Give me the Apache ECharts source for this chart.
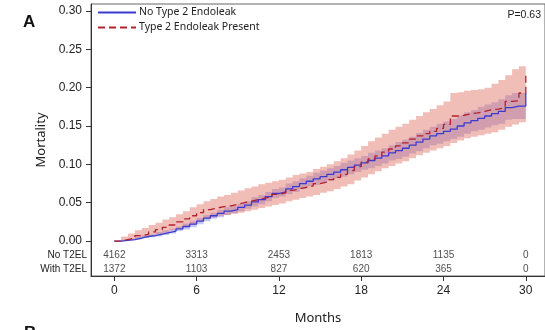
<!DOCTYPE html>
<html>
<head>
<meta charset="utf-8">
<script src="https://cdn.jsdelivr.net/npm/echarts@6/dist/echarts.min.js"></script>
<style>
  html, body { margin: 0; padding: 0; background: #fff; }
  #chart { width: 545px; height: 330px; }
</style>
</head>
<body>
<div id="chart"></div>
<script>
// Cumulative mortality (Kaplan-Meier style), sampled every half month of follow-up
const months = [0,0.5,1,1.5,2,2.5,3,3.5,4,4.5,5,5.5,6,6.5,7,7.5,8,8.5,9,9.5,10,10.5,11,11.5,12,12.5,13,13.5,14,14.5,15,
                15.5,16,16.5,17,17.5,18,18.5,19,19.5,20,20.5,21,21.5,22,22.5,23,23.5,24,24.5,25,25.5,26,26.5,27,27.5,28,28.5,29,29.5,30];

// No Type 2 Endoleak: estimate and 95% band
const noT2el   = [0,.001,.002,.004,.006,.007,.009,.011,.013,.016,.019,.022,.026,.030,.033,.036,.039,.041,.044,.047,.051,.054,.058,.062,.064,.068,.071,.075,.078,.081,.084,
                  .087,.090,.093,.096,.099,.102,.105,.108,.111,.115,.118,.121,.125,.129,.133,.137,.140,.143,.146,.150,.154,.157,.160,.163,.166,.169,.174,.176,.176,.193];
const noT2elLo = [0,0,.001,.002,.004,.005,.006,.008,.010,.013,.015,.018,.022,.026,.029,.031,.034,.036,.039,.042,.045,.048,.052,.056,.058,.061,.064,.068,.071,.073,.076,
                  .079,.082,.084,.087,.090,.093,.095,.098,.101,.105,.107,.110,.114,.117,.121,.125,.127,.130,.133,.136,.140,.143,.145,.148,.151,.153,.158,.159,.159,.171];
const noT2elHi = [0,.002,.003,.006,.008,.009,.012,.014,.016,.019,.023,.026,.030,.034,.037,.041,.044,.046,.049,.052,.057,.060,.064,.068,.070,.075,.078,.082,.085,.089,.092,
                  .095,.098,.102,.105,.108,.111,.115,.118,.121,.125,.129,.132,.136,.141,.145,.149,.153,.156,.159,.164,.168,.171,.175,.178,.181,.185,.190,.193,.193,.215];

// Type 2 Endoleak present: estimate and 95% band
const t2el     = [0,.002,.004,.007,.009,.012,.015,.018,.021,.025,.029,.033,.037,.041,.043,.045,.046,.048,.050,.052,.054,.056,.058,.061,.063,.066,.068,.070,.072,.075,.077,
                  .080,.083,.087,.092,.097,.103,.107,.111,.116,.120,.124,.128,.133,.137,.140,.143,.147,.152,.163,.164,.166,.167,.169,.171,.172,.174,.182,.183,.193,.217];
const t2elLo   = [0,.001,.002,.003,.005,.007,.009,.011,.014,.016,.019,.022,.026,.029,.031,.033,.034,.036,.037,.039,.041,.043,.045,.047,.049,.052,.054,.056,.058,.060,.063,
                  .065,.068,.071,.074,.079,.083,.087,.091,.095,.098,.101,.104,.108,.112,.115,.118,.121,.124,.128,.131,.134,.136,.138,.140,.142,.145,.149,.152,.155,.160];
const t2elHi   = [0,.006,.010,.014,.017,.021,.024,.028,.031,.035,.039,.044,.048,.052,.055,.058,.060,.063,.066,.069,.071,.074,.076,.078,.080,.083,.086,.088,.090,.094,.097,
                  .100,.104,.108,.113,.118,.124,.130,.135,.140,.145,.149,.153,.158,.163,.168,.172,.177,.182,.193,.194,.196,.197,.198,.200,.205,.210,.216,.224,.228,.258];

// Numbers at risk
const riskMonths = [0, 6, 12, 18, 24, 30];
const riskNoT2el = [4162, 3313, 2453, 1813, 1135, 0];
const riskT2el   = [1372, 1103, 827, 620, 365, 0];

const xTicks = [0, 6, 12, 18, 24, 30];
const yTicks = [0, 0.05, 0.10, 0.15, 0.20, 0.25, 0.30];
const seriesNames = ['No Type 2 Endoleak', 'Type 2 Endoleak Present'];
const riskRowNames = ['No T2EL', 'With T2EL'];

// vertical slots (in axis units) for the two at-risk rows
const ROW1_Y = -0.0182, ROW2_Y = -0.0373;

const pairs = (ys) => months.map((m, i) => [m, ys[i]]);

// Confidence band drawn as one stepped polygon between the lower and upper bounds
function bandSeries(lo, hi, color) {
  return {
    type: 'custom', silent: true, clip: true,
    data: months.map((m, i) => [m, lo[i], hi[i]]),
    encode: { x: 0, y: [1, 2] },
    renderItem: (params, api) => {
      if (params.dataIndex !== 0) return;
      const n = months.length;
      const pts = [];
      for (let i = 0; i < n; i++) {
        pts.push(api.coord([months[i], hi[i]]));
        if (i < n - 1) pts.push(api.coord([months[i + 1], hi[i]]));
      }
      for (let i = n - 1; i >= 0; i--) {
        if (i < n - 1) pts.push(api.coord([months[i + 1], lo[i]]));
        pts.push(api.coord([months[i], lo[i]]));
      }
      return { type: 'polygon', shape: { points: pts }, style: { fill: color } };
    }
  };
}

function riskRow(values, yPos) {
  return {
    type: 'scatter', symbolSize: 0, silent: true,
    data: riskMonths.map((m, i) => [m, yPos, values[i]]),
    label: {
      show: true, position: 'inside', color: '#222',
      fontFamily: 'Liberation Sans, Arial, sans-serif', fontSize: 10,
      formatter: (p) => String(p.data[2])
    }
  };
}

const chart = echarts.init(document.getElementById('chart'), null, { renderer: 'canvas' });

chart.setOption({
  animation: false,
  backgroundColor: '#fff',
  grid: {
    left: 91, top: 4, width: 455, height: 273,
    show: true, borderColor: '#666', borderWidth: 1, backgroundColor: 'transparent'
  },
  legend: {
    data: seriesNames,
    orient: 'vertical', left: 97, top: 7, padding: 0,
    itemWidth: 38, itemHeight: 12, itemGap: 4,
    itemStyle: { opacity: 0 },
    textStyle: { fontFamily: 'Noto Sans, sans-serif', fontSize: 10.5, color: '#222', padding: [0, 0, 0, -2] }
  },
  xAxis: {
    type: 'value', min: -1.7, max: 31.4,
    name: 'Months', nameLocation: 'middle', nameGap: 36, nameMoveOverlap: false,
    nameTextStyle: { fontFamily: 'Noto Sans, sans-serif', fontSize: 13, color: '#222' },
    axisLine: { show: true, onZero: false, lineStyle: { color: '#333', width: 1 } },
    axisTick: { show: true, length: 5, customValues: xTicks, lineStyle: { color: '#333' } },
    axisLabel: { customValues: xTicks, margin: 9, fontFamily: 'Liberation Sans, Arial, sans-serif', fontSize: 12, color: '#222' },
    splitLine: { show: false }
  },
  yAxis: {
    type: 'value', min: -0.0455, max: 0.309,
    name: 'Mortality', nameLocation: 'middle', nameGap: 43, nameMoveOverlap: false,
    nameTextStyle: { fontFamily: 'Noto Sans, sans-serif', fontSize: 13, color: '#222' },
    axisLine: { show: true, onZero: false, lineStyle: { color: '#333', width: 1 } },
    axisTick: { show: true, length: 5, customValues: yTicks, lineStyle: { color: '#333' } },
    axisLabel: {
      customValues: [ROW2_Y, ROW1_Y].concat(yTicks),
      margin: 4,
      formatter: (v) => {
        if (Math.abs(v - ROW1_Y) < 1e-6) return '{row|' + riskRowNames[0] + '}';
        if (Math.abs(v - ROW2_Y) < 1e-6) return '{row|' + riskRowNames[1] + '}';
        return '{num|' + v.toFixed(2) + '}';
      },
      rich: {
        num: { fontFamily: 'Liberation Sans, Arial, sans-serif', fontSize: 12, color: '#222', padding: [0, 5, 0, 0] },
        row: { fontFamily: 'Liberation Sans, Arial, sans-serif', fontSize: 10, color: '#222' }
      }
    },
    splitLine: { show: false }
  },
  series: [
    bandSeries(noT2elLo, noT2elHi, 'rgba(110,110,220,0.40)'),
    bandSeries(t2elLo, t2elHi, 'rgba(225,110,95,0.45)'),
    {
      name: seriesNames[0], type: 'line', step: 'end', symbol: 'none',
      data: pairs(noT2el), color: '#3b3bd0',
      lineStyle: { color: '#3b3bd0', width: 1.3 }
    },
    {
      name: seriesNames[1], type: 'line', step: 'end', symbol: 'none',
      data: pairs(t2el), color: '#b3202e',
      lineStyle: { color: '#b3202e', width: 1.3, type: [7, 4] }
    },
    riskRow(riskNoT2el, ROW1_Y),
    riskRow(riskT2el, ROW2_Y)
  ],
  graphic: [
    { type: 'text', left: 23, top: 14,
      style: { text: 'A', font: 'bold 17px "Liberation Sans", Arial, sans-serif', fill: '#111' } },
    { type: 'text', right: 4, top: 10,
      style: { text: 'P=0.63', font: '10.5px "Liberation Sans", Arial, sans-serif', fill: '#222' } },
    { type: 'text', left: 24, top: 325,
      style: { text: 'B', font: 'bold 17px "Liberation Sans", Arial, sans-serif', fill: '#111' } }
  ]
});
</script>
</body>
</html>
